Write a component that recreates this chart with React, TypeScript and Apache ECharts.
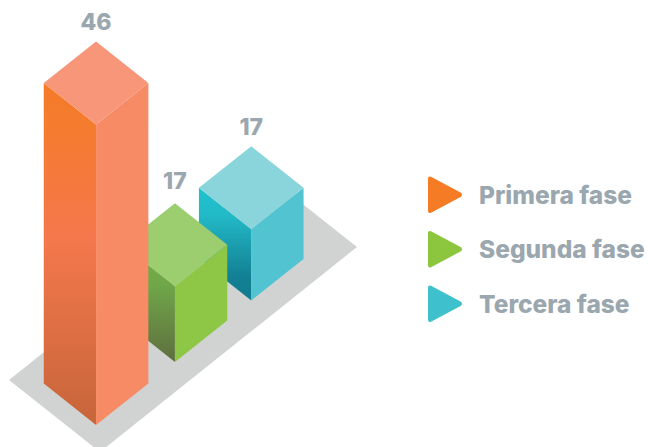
import React, { useEffect, useRef } from "react";
import * as echarts from "echarts";

const categories = ["Primera fase", "Segunda fase", "Tercera fase"];
const shownValues = [46, 17, 17];
// The picture does not draw the bars in proportion: these are the heights as drawn, in the units of the tallest bar.
const drawnHeights = [46, 11.6, 10.9];
const frontColors = ["#F79679", "#9CCE6F", "#8AD5DC"];
const rightColors = ["#F78B65", "#8DC745", "#52C3D0"];
const leftStops = [
  [[0, "#F57B2A"], [0.12, "#F57B2E"], [0.45, "#F4784C"], [1, "#C7653A"]],
  [[0, "#76B043"], [0.35, "#6FA649"], [1, "#5F6E3E"]],
  [[0, "#1FC2CE"], [0.25, "#22B9C6"], [0.8, "#127F93"], [1, "#107C90"]],
];
const legendColors = ["#F57B25", "#8CC63F", "#3EC1CD"];
const drawOrder = [2, 1, 0];

const HALF_W = 52.3;
const HALF_D = 41.5;
const RISE = [0, 63, 124.5];
const NUDGE = [-0.2, 1.2, 0];
const LABEL_GAP = [19, 22, 19];
const TEXT = "#9BA7AF";
const FONT = "Inter, sans-serif";

const renderBar = (idx: number) => (_p: any, api: any) => {
  const base = api.coord([api.value(0), 0]);
  const h = api.size([0, api.value(1)])[1];
  const cx = base[0] + NUDGE[idx];
  const fy = base[1] - RISE[idx];
  const ty = fy - h;
  const tl = [cx - HALF_W, ty - HALF_D];
  const tr = [cx + HALF_W, ty - HALF_D];
  const tf = [cx, ty];
  const tb = [cx, ty - 2 * HALF_D];
  const bl = [cx - HALF_W, fy - HALF_D];
  const br = [cx + HALF_W, fy - HALF_D];
  const bf = [cx, fy];
  const grad = new echarts.graphic.LinearGradient(
    0, 0, 0, 1,
    leftStops[idx].map(([offset, color]) => ({ offset: offset as number, color: color as string }))
  );
  return {
    type: "group",
    children: [
      { type: "polygon", shape: { points: [tl, tf, bf, bl] }, style: { fill: grad } },
      { type: "polygon", shape: { points: [tf, tr, br, bf] }, style: { fill: rightColors[idx] } },
      { type: "polygon", shape: { points: [tb, tr, tf, tl] }, style: { fill: frontColors[idx] } },
      {
        type: "text",
        style: {
          x: cx,
          y: tb[1] - LABEL_GAP[idx],
          text: String(shownValues[idx]),
          fill: TEXT,
          font: `800 23px ${FONT}`,
          textAlign: "center",
          textVerticalAlign: "middle",
        },
      },
    ],
  };
};

export default function App() {
  const ref = useRef<HTMLDivElement>(null);
  useEffect(() => {
    const chart = echarts.init(ref.current!, undefined, { renderer: "svg" });
    chart.setOption({
      animation: false,
      grid: { left: 57.5, width: 232.5, top: 33, height: 392 },
      xAxis: { type: "category", data: categories, show: false },
      yAxis: { type: "value", min: 0, max: 60, show: false },
      legend: {
        orient: "vertical",
        left: 428,
        top: 176.5,
        padding: 0,
        itemWidth: 34,
        itemHeight: 38,
        itemGap: 18,
        selectedMode: false,
        icon: "path://M0,3 Q0,0 3,1 L33,17 Q35,19 33,21 L3,37 Q0,38 0,35 Z",
        textStyle: { color: TEXT, fontFamily: FONT, fontWeight: 800, fontSize: 24.5, padding: [0, 0, 0, 12] },
        data: categories.map((name, i) => ({ name, itemStyle: { color: legendColors[i] } })),
      },
      graphic: [
        {
          type: "polygon",
          silent: true,
          z: 0,
          shape: { points: [[9, 380], [266, 175], [357, 247], [100, 452]] },
          style: { fill: "#D1D3D2" },
        },
      ],
      series: drawOrder.map((i) => ({
        type: "custom",
        name: categories[i],
        clip: false,
        silent: true,
        itemStyle: { color: legendColors[i] },
        renderItem: renderBar(i),
        encode: { x: 0, y: 1 },
        data: [[i, drawnHeights[i]]],
      })),
    });
    return () => chart.dispose();
  }, []);
  return <div ref={ref} style={{ position: "absolute", left: 0, top: 0, width: 648, height: 447 }} />;
}
